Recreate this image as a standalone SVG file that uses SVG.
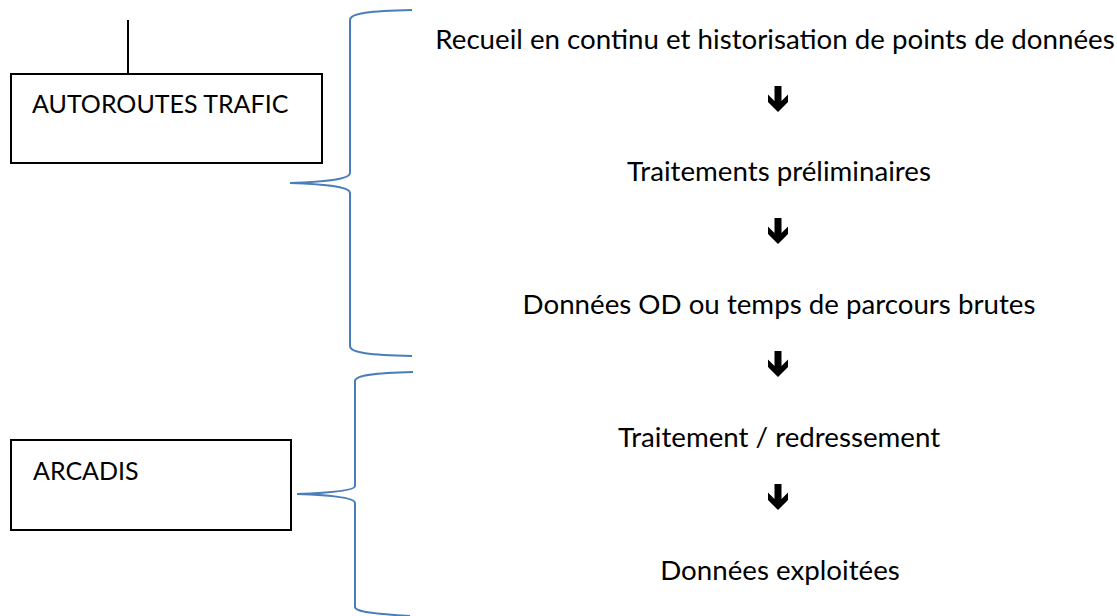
<svg xmlns="http://www.w3.org/2000/svg" width="1117" height="616" viewBox="0 0 1117 616">
<style>
.box{fill:#fff;stroke:#000;stroke-width:2}
.lbl{font-family:Lato,"Open Sans",sans-serif;font-size:25px;fill:#000}
.step{font-family:Lato,"Open Sans",sans-serif;font-size:27.7px;fill:#000;text-anchor:middle}
.brace{fill:none;stroke:#4a7ebb;stroke-width:2}
.line{stroke:#000;stroke-width:2}
</style>
<defs>
<path id="arr" d="M-3.5,-13 H3.5 V2 L10,-4.5 V3 L0,13 L-10,3 V-4.5 L-3.5,2 Z" fill="#000"/>
</defs>
<rect width="1117" height="616" fill="#fff"/>
<g id="connectors">
<line class="line" x1="128" y1="20" x2="128" y2="74"/>
<path class="brace" d="M412,10 C370,11 350,13 350,20 V173 C350,180 320,182 290,183 C320,184 350,186 350,193 V346 C350,353 370,355 412,356"/>
<path class="brace" d="M413,372 C375,373 355,375 355,381 V486 C355,491 325,493 297,494 C325,495 355,497 355,503 V607 C355,612 375,614 410,616"/>
<use href="#arr" x="778" y="99"/>
<use href="#arr" x="778" y="231"/>
<use href="#arr" x="778" y="364"/>
<use href="#arr" x="778" y="497"/>
</g>
<g id="node-autoroutes">
<rect class="box" x="11" y="74" width="311" height="89"/>
<text class="lbl" x="32" y="113">AUTOROUTES TRAFIC</text>
</g>
<g id="node-arcadis">
<rect class="box" x="11" y="440" width="280" height="90"/>
<text class="lbl" x="33" y="480">ARCADIS</text>
</g>
<g id="step1"><text class="step" x="775" y="49">Recueil en continu et historisation de points de données</text></g>
<g id="step2"><text class="step" x="779" y="181">Traitements préliminaires</text></g>
<g id="step3"><text class="step" x="779" y="314">Données OD ou temps de parcours brutes</text></g>
<g id="step4"><text class="step" x="779" y="447">Traitement / redressement</text></g>
<g id="step5"><text class="step" x="780" y="580">Données exploitées</text></g>
</svg>
